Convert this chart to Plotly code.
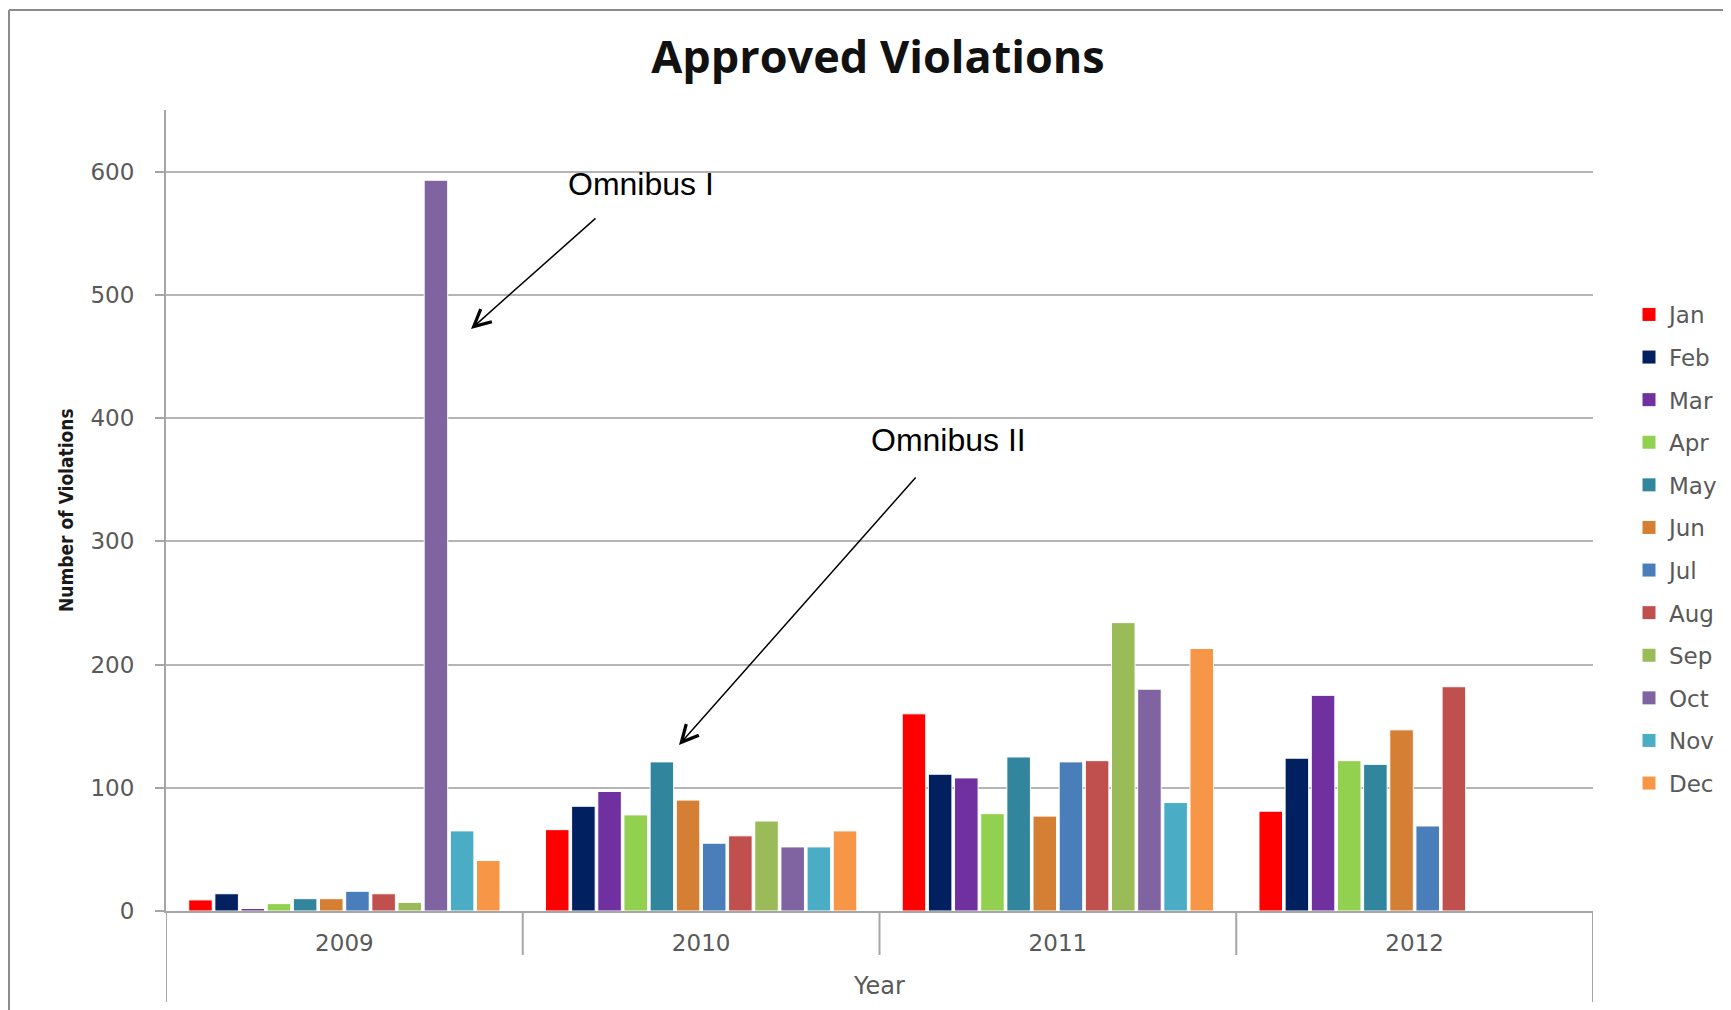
import plotly.graph_objects as go

years = ["2009", "2010", "2011", "2012"]
months = ["Jan", "Feb", "Mar", "Apr", "May", "Jun", "Jul", "Aug", "Sep", "Oct", "Nov", "Dec"]

jan = [9, 66, 160, 81]
feb = [14, 85, 111, 124]
mar = [2, 97, 108, 175]
apr = [6, 78, 79, 122]
may = [10, 121, 125, 119]
jun = [10, 90, 77, 147]
jul = [16, 55, 121, 69]
aug = [14, 61, 122, 182]
sep = [7, 73, 234, None]
oct_ = [593, 52, 180, None]
nov = [65, 52, 88, None]
dec = [41, 65, 213, None]

series = [jan, feb, mar, apr, may, jun, jul, aug, sep, oct_, nov, dec]
colors = ["#FF0000", "#002060", "#7030A0", "#92D050", "#31859C", "#D47F34",
          "#4A7EBB", "#C0504D", "#9BBB59", "#8064A2", "#4BACC6", "#F79646"]

y_ticks = [0, 100, 200, 300, 400, 500, 600]

W, H = 1731, 1010
OFF = 8  # page body margin
L, R, T, B = 158, 146, 102, 107
pw = W - L - R
ph = H - T - B
YMAX = 650


def fx(sx):
    return (sx - OFF - L) / pw


def fy(sy):
    return (H - B - (sy - OFF)) / ph


fig = go.Figure()
for i, (m, vals) in enumerate(zip(months, series)):
    fig.add_trace(go.Bar(
        x=years, y=vals, name=m, legendgroup=m, showlegend=False,
        marker=dict(color=colors[i], line=dict(color="white", width=1)),
    ))
for i, m in enumerate(months):
    fig.add_trace(go.Scatter(
        x=[None], y=[None], name=m, legendgroup=m, mode="markers",
        marker=dict(symbol="square", size=13, color=colors[i]),
    ))

tick_font = dict(family="DejaVu Sans", size=23, color="#595959")

fig.update_layout(
    width=W, height=H,
    margin=dict(l=L, r=R, t=T, b=B),
    paper_bgcolor="white", plot_bgcolor="white",
    barmode="group", bargap=0.12, bargroupgap=0.1,
    showlegend=True,
    legend=dict(x=fx(1629), y=fy(293), xanchor="left", yanchor="top",
                font=dict(family="DejaVu Sans", size=23, color="#595959"),
                tracegroupgap=9.7, bgcolor="rgba(0,0,0,0)", itemwidth=30),
    title=dict(text="<b>Approved Violations</b>", x=fx(878), xref="paper", xanchor="center",
               y=1 - (57 - OFF) / H, yref="container", yanchor="middle",
               font=dict(family="Open Sans", size=45, color="#111111")),
    xaxis=dict(type="category", range=[-0.5, 3.5], showgrid=False, ticks="",
               showline=True, linecolor="#A6A6A6", linewidth=2,
               tickfont=tick_font, ticklabelstandoff=10),
    yaxis=dict(range=[0, YMAX], tickvals=y_ticks, showgrid=True, gridcolor="#B5B5B5", gridwidth=2,
               showline=True, linecolor="#A6A6A6", linewidth=2,
               ticks="outside", ticklen=9, tickcolor="#A6A6A6", tickwidth=2,
               tickfont=tick_font, ticklabelstandoff=16, zeroline=False),
)

# category divider tick lines below axis
for xv, ybot in [(0.5, 955), (1.5, 955), (2.5, 955), (-0.5, 1002), (3.5, 1002)]:
    fig.add_shape(type="line", xref="x", yref="paper", x0=xv, x1=xv, y0=0, y1=fy(ybot),
                  line=dict(color="#A6A6A6", width=2))

# outer chart border
fig.add_shape(type="line", xref="paper", yref="paper", x0=fx(9), x1=fx(1760), y0=fy(10), y1=fy(10),
              line=dict(color="#8C8C8C", width=2))
fig.add_shape(type="line", xref="paper", yref="paper", x0=fx(9), x1=fx(9), y0=fy(10), y1=fy(1030),
              line=dict(color="#8C8C8C", width=2))

# axis titles
fig.add_annotation(text="<b>Number of Violations</b>", xref="paper", yref="paper", x=fx(66), y=fy(510),
                   xanchor="center", yanchor="middle", textangle=-90, showarrow=False,
                   font=dict(family="Liberation Sans Narrow, DejaVu Sans Condensed", size=19, color="#1a1a1a"))
fig.add_annotation(text="Year", xref="paper", yref="paper", x=fx(879), y=fy(986),
                   xanchor="center", yanchor="middle", showarrow=False,
                   font=dict(family="DejaVu Sans", size=24, color="#595959"))

# Omnibus annotations
fig.add_annotation(text="Omnibus I", xref="paper", yref="paper", x=fx(641), y=fy(184),
                   xanchor="center", yanchor="middle", showarrow=False,
                   font=dict(family="Liberation Sans", size=32, color="black"))
fig.add_annotation(text="Omnibus II", xref="paper", yref="paper", x=fx(949), y=fy(440),
                   xanchor="center", yanchor="middle", showarrow=False,
                   font=dict(family="Liberation Sans", size=32, color="black"))
fig.add_annotation(text="", xref="paper", yref="paper", x=fx(471), y=fy(329),
                   ax=597 - 471, ay=217 - 329, showarrow=True, arrowhead=5, arrowsize=2.2,
                   arrowwidth=1.5, arrowcolor="black", standoff=0)
fig.add_annotation(text="", xref="paper", yref="paper", x=fx(679), y=fy(745),
                   ax=917 - 679, ay=476 - 745, showarrow=True, arrowhead=5, arrowsize=2.2,
                   arrowwidth=1.5, arrowcolor="black", standoff=0)

fig.write_html("out.html")
